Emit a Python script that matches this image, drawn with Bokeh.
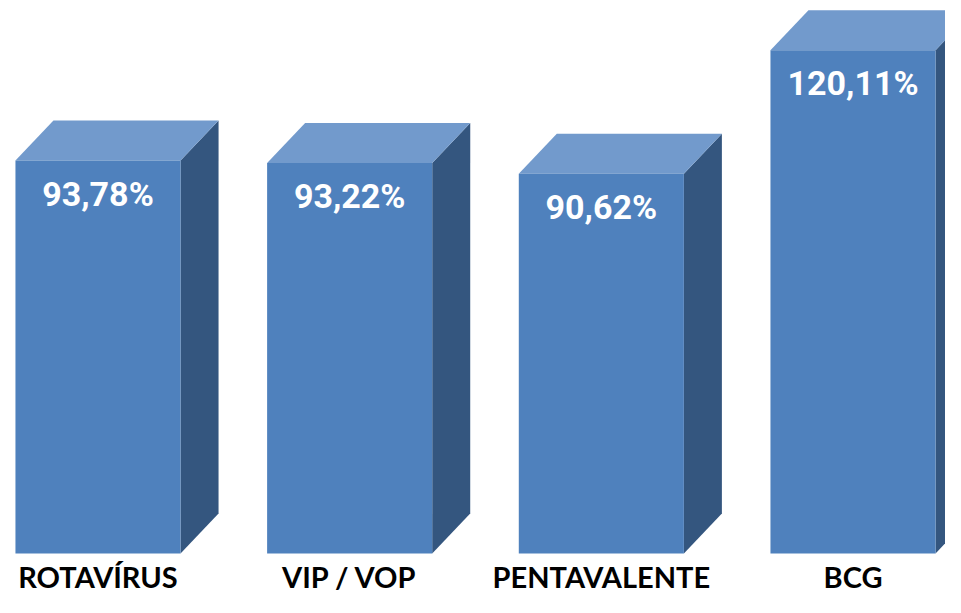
from bokeh.plotting import figure
from bokeh.models import Range1d, ColumnDataSource
from bokeh.embed import file_html
from bokeh.resources import INLINE
from bokeh.core.properties import value

categories = ["ROTAVÍRUS", "VIP / VOP", "PENTAVALENTE", "BCG"]
coverage = [93.78, 93.22, 90.62, 120.11]
value_labels = ["93,78%", "93,22%", "90,62%", "120,11%"]

# layout (styles / geometry, not data)
bar_w = 0.656
depth_x = 0.151
depth_y = 9.55
label_off = 7.9

front_c = "#4F81BD"
top_c = "#729ACC"
side_c = "#34567F"

xs_top, ys_top, xs_side, ys_side = [], [], [], []
lefts, rights, centers = [], [], []
for i, v in enumerate(coverage):
    l = i - bar_w / 2
    r = i + bar_w / 2
    lefts.append(l); rights.append(r); centers.append(i)
    xs_top.append([l, r, r + depth_x, l + depth_x])
    ys_top.append([v, v, v + depth_y, v + depth_y])
    xs_side.append([r, r + depth_x, r + depth_x, r])
    ys_side.append([0, depth_y, v + depth_y, v])

p = figure(width=945, height=597, output_backend="svg", toolbar_location=None,
           x_range=Range1d(-0.3874, 3.3675), y_range=Range1d(-10.50, 131.98),
           min_border=0)
p.axis.visible = False
p.grid.visible = False
p.outline_line_color = None
p.background_fill_color = "white"

p.patches(xs_side, ys_side, fill_color=side_c, line_color=None)
p.patches(xs_top, ys_top, fill_color=top_c, line_color=None)
p.quad(left=lefts, right=rights, bottom=[0] * 4, top=coverage,
       fill_color=front_c, line_color=None)

src = ColumnDataSource(dict(x=centers, y=[v - label_off for v in coverage],
                            t=value_labels, c=categories,
                            yc=[-5.6] * 4))
p.text(x="x", y="y", text="t", source=src, text_color="white",
       text_font=value("Roboto"), text_font_style="bold",
       text_font_size="34px", text_align="center", text_baseline="middle")
p.text(x="x", y="yc", text="c", source=src, text_color="black",
       text_font=value("Lato"), text_font_style="bold",
       text_font_size="29px", text_align="center", text_baseline="middle")

open("out.html", "w").write(file_html(p, INLINE))
